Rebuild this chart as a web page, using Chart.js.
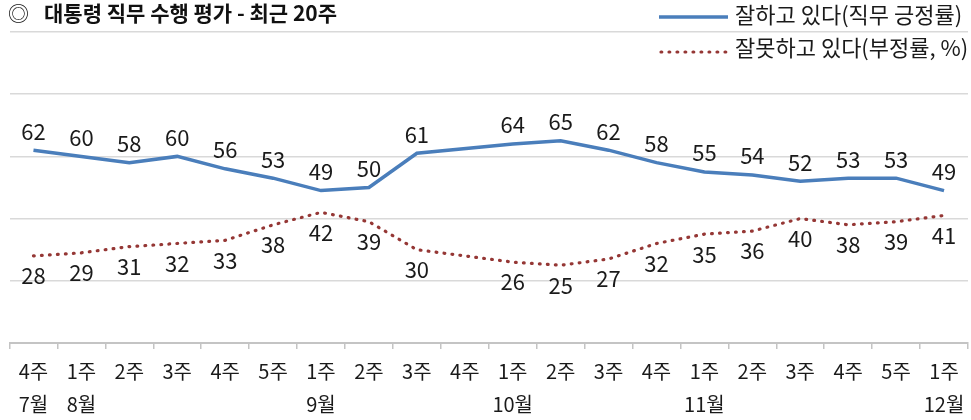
<!DOCTYPE html>
<html>
<head>
<meta charset="utf-8">
<script src="https://cdn.jsdelivr.net/npm/chart.js@4.4.1/dist/chart.umd.min.js"></script>
<style>
  html, body { margin: 0; padding: 0; background: #fff; }
  #wrap { width: 971px; height: 420px; }
</style>
</head>
<body>
<div id="wrap"><canvas id="chart"></canvas></div>
<script>
const weeks = ['4주','1주','2주','3주','4주','5주','1주','2주','3주','4주','1주','2주','3주','4주','1주','2주','3주','4주','5주','1주'];
const months = ['7월','8월','','','','','9월','','','','10월','','','','11월','','','','','12월'];
const approve = [62,60,58,60,56,53,49,50,61,null,64,65,62,58,55,54,52,53,53,49];
const disapprove = [28,29,31,32,33,38,42,39,30,null,26,25,27,32,35,36,40,38,39,41];
const seriesNames = ['잘하고 있다(직무 긍정률)', '잘못하고 있다(부정률, %)'];
const titleText = '대통령 직무 수행 평가 - 최근 20주';

const FONT = '"Noto Sans CJK KR", "Noto Sans", sans-serif';
const BLUE = '#4a7ebb';
const RED = '#953735';

const labels = weeks.map((w, i) => months[i] ? [w, months[i]] : [w]);

// numbers above (긍정) / below (부정) each point
const valueLabels = {
  id: 'valueLabels',
  afterDatasetsDraw(chart) {
    const ctx = chart.ctx;
    ctx.save();
    ctx.font = '22px ' + FONT;
    ctx.fillStyle = '#1a1a1a';
    ctx.textAlign = 'center';
    ctx.textBaseline = 'middle';
    chart.data.datasets.forEach((ds, di) => {
      const meta = chart.getDatasetMeta(di);
      meta.data.forEach((pt, i) => {
        const v = ds.data[i];
        if (v == null) return;
        const dy = di === 0 ? -19 : 20;
        ctx.fillText(String(v), pt.x, pt.y + dy);
      });
    });
    ctx.restore();
  }
};

// title and legend on top
const header = {
  id: 'header',
  afterDraw(chart) {
    const ctx = chart.ctx;
    ctx.save();
    ctx.fillStyle = '#111';
    ctx.textBaseline = 'middle';
    ctx.textAlign = 'left';
    ctx.font = '21px ' + FONT;
    ctx.fillText('◎', 8, 13);
    ctx.font = 'bold 21px ' + FONT;
    ctx.fillText(titleText, 44, 13);

    // legend
    ctx.lineWidth = 3.5;
    ctx.strokeStyle = BLUE;
    ctx.beginPath();
    ctx.moveTo(659, 17);
    ctx.lineTo(728, 17);
    ctx.stroke();

    ctx.strokeStyle = RED;
    ctx.lineWidth = 3.2;
    ctx.lineCap = 'round';
    ctx.setLineDash([0.8, 7.2]);
    ctx.beginPath();
    ctx.moveTo(661, 52);
    ctx.lineTo(726, 52);
    ctx.stroke();
    ctx.setLineDash([]);

    ctx.font = '22px ' + FONT;
    ctx.fillStyle = '#1a1a1a';
    ctx.fillText(seriesNames[0], 735, 15);
    ctx.fillText(seriesNames[1], 735, 48);
    ctx.restore();
  }
};

new Chart(document.getElementById('chart'), {
  type: 'line',
  data: {
    labels,
    datasets: [
      {
        label: seriesNames[0],
        data: approve,
        borderColor: BLUE,
        borderWidth: 3.5,
        pointRadius: 0,
        tension: 0,
        spanGaps: true
      },
      {
        label: seriesNames[1],
        data: disapprove,
        borderColor: RED,
        borderWidth: 3.2,
        borderDash: [0.8, 7.2],
        borderCapStyle: 'round',
        pointRadius: 0,
        tension: 0,
        spanGaps: true
      }
    ]
  },
  options: {
    responsive: true,
    maintainAspectRatio: false,
    animation: false,
    layout: { padding: { top: 32, left: 9.5, right: 3, bottom: 0 } },
    plugins: {
      legend: { display: false },
      title: { display: false },
      tooltip: { enabled: false }
    },
    scales: {
      x: {
        offset: true,
        grid: {
          offset: true,
          drawOnChartArea: false,
          tickLength: 6,
          color: '#c4c4c4',
          lineWidth: 1.5
        },
        border: { color: '#c4c4c4', width: 2 },
        ticks: {
          autoSkip: false,
          maxRotation: 0,
          padding: 6,
          color: '#1a1a1a',
          font: { family: FONT, size: 20, lineHeight: 33 / 20 }
        },
        afterFit(scale) { scale.height = 77; }
      },
      y: {
        min: 0,
        max: 100,
        ticks: { stepSize: 20, display: false },
        grid: { color: '#d9d9d9', lineWidth: 1.5, drawTicks: false },
        border: { display: false }
      }
    }
  },
  plugins: [valueLabels, header]
});
</script>
</body>
</html>
